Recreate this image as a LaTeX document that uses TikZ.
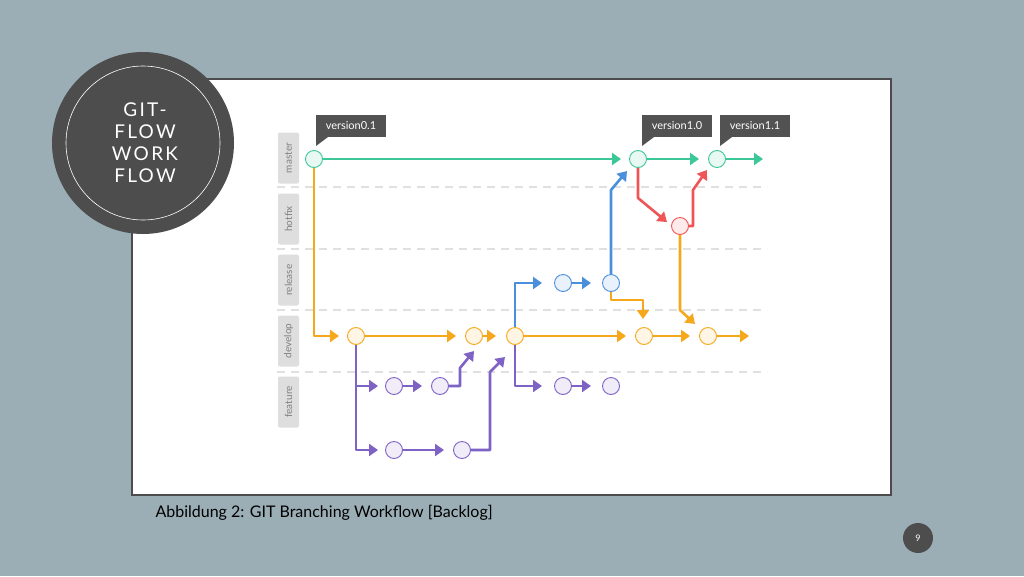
\documentclass[tikz,border=0pt]{standalone}
\usepackage{fontspec}
\setmainfont{Lato}
\setsansfont{Lato}
\usetikzlibrary{arrows.meta}
\definecolor{slide}{HTML}{9BAEB5}
\definecolor{disc}{HTML}{4D4D4D}
\definecolor{grn}{HTML}{3CC896}
\definecolor{org}{HTML}{F6A81C}
\definecolor{blu}{HTML}{4A8FDB}
\definecolor{rd}{HTML}{EF5456}
\definecolor{prp}{HTML}{7E62C6}
\tikzset{
  br/.style={line width=2.6pt, -{Triangle[length=9pt,width=12pt]}, line join=round},
  cm/.style={circle, draw=#1, fill=#1!12, line width=0.9pt, minimum size=17pt, inner sep=0pt},
  lane/.style={fill=black!13, rounded corners=2pt, minimum width=21pt, minimum height=51pt, inner sep=0pt},
  lanetxt/.style={rotate=90, text=black!50, font=\fontsize{10}{10}\selectfont},
  tag/.style={fill=black!68, text=white, font=\fontsize{11}{11}\selectfont, minimum height=22pt, minimum width=70pt, inner sep=0pt}
}
\begin{document}
\begin{tikzpicture}[x=1pt, y=-1pt]
\useasboundingbox (0,0) rectangle (1024,576);
\fill[slide] (0,0) rectangle (1024,576);
\draw[fill=white, draw=black!70, line width=1.8pt] (132,79) rectangle (891,495);

% lanes
\foreach \nm/\y in {master/158, hotfix/219, release/280, develop/341, feature/402}
  \node[lane] (l\nm) at (288.5,\y) {} node[lanetxt] at (288.5,\y) {\nm};
\foreach \y in {187, 249, 310, 372}
  \draw[black!12, dashed, dash pattern=on 8pt off 6pt, line width=1.3pt] (277,\y) -- (767,\y);

% tags
\node[tag] (t01) at (351,126) {version0.1};
\node[tag] (t10) at (677,126) {version1.0};
\node[tag] (t11) at (755,126) {version1.1};
\foreach \t/\x in {t01/316, t10/642, t11/720}
  \fill[black!68] (\x,137) -- (\x,146) -- (\x+12,137) -- cycle;

% commits
\node[cm=grn] (m1) at (314,159) {};
\node[cm=grn] (m2) at (638,159) {};
\node[cm=grn] (m3) at (717,159) {};
\node[cm=rd]  (h1) at (680,226) {};
\node[cm=blu] (r1) at (563,283) {};
\node[cm=blu] (r2) at (611,283) {};
\node[cm=org] (d1) at (356,336) {};
\node[cm=org] (d2) at (474,336) {};
\node[cm=org] (d3) at (515,336) {};
\node[cm=org] (d4) at (644,336) {};
\node[cm=org] (d5) at (708,336) {};
\node[cm=prp] (f1) at (394,386) {};
\node[cm=prp] (f2) at (440,386) {};
\node[cm=prp] (g1) at (394,450) {};
\node[cm=prp] (g2) at (462,450) {};
\node[cm=prp] (e1) at (563,386) {};
\node[cm=prp] (e2) at (611,386) {};

% master
\draw[br, grn] (m1) -- (621,159);
\draw[br, grn] (m2) -- (699,159);
\draw[br, grn] (m3) -- (763,159);
% hotfix
\draw[br, rd] (m2) -- (638,198) -- (667,222);
\draw[br, rd] (h1.east) -- (693,226) -- (693,190) -- (707,170);
\draw[br, org] (h1) -- (680,310) -- (695,324);
% develop
\draw[br, org] (m1) -- (314,336) -- (339,336);
\draw[br, org] (d1) -- (456,336);
\draw[br, org] (d2) -- (496,336);
\draw[br, org] (d3) -- (626,336);
\draw[br, org] (d4) -- (690,336);
\draw[br, org] (d5) -- (749,336);
% release
\draw[br, blu] (d3) -- (515,283) -- (542,283);
\draw[br, blu] (r1) -- (591,283);
\draw[br, blu] (r2) -- (611,190) -- (627,171);
\draw[br, org] (r2) -- (611,300) -- (643,300) -- (643,319);
% feature
\draw[br, prp] (d1) -- (356,450) -- (378,450);
\draw[br, prp] (356,386) -- (378,386);
\draw[br, prp] (f1) -- (422,386);
\draw[br, prp] (f2) -- (460,386) -- (460,368) -- (474,351);
\draw[br, prp] (g1) -- (444,450);
\draw[br, prp] (g2) -- (490,450) -- (490,372) -- (505,357);
\draw[br, prp] (d3) -- (515,386) -- (542,386);
\draw[br, prp] (e1) -- (591,386);

% title disc
\node[circle, fill=disc, minimum size=182pt] (disc) at (143,143) {};
\draw[white, line width=0.6pt] (disc.center) circle (77pt);
\node[text=white, align=center, font=\fontsize{19}{22}\selectfont\addfontfeatures{LetterSpace=12}] (ttl) at (145,143) {GIT-\\FLOW\\WORK\\FLOW};

\node[anchor=west, font=\fontsize{16}{16}\selectfont] (cap) at (152,513) {Abbildung 2: GIT Branching Workflow [Backlog]};
\node[circle, fill=disc, minimum size=30pt, text=white, font=\fontsize{9}{9}\selectfont] (pg) at (918,538) {9};
\end{tikzpicture}
\end{document}
